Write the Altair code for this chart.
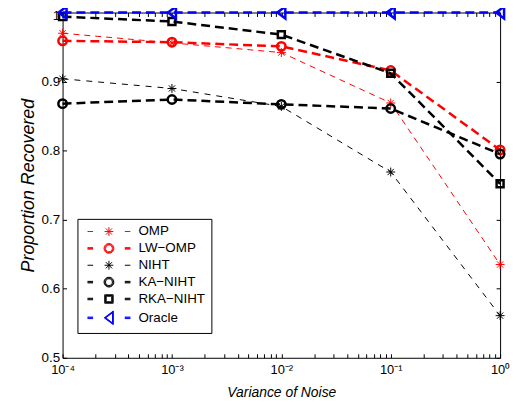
import altair as alt
import pandas as pd

# ---- data ----
x_values = [1e-4, 1e-3, 1e-2, 1e-1, 1.0]
series_names = ["OMP", "LW−OMP", "NIHT", "KA−NIHT", "RKA−NIHT", "Oracle"]
omp = [0.970, 0.956, 0.942, 0.869, 0.635]
lw_omp = [0.959, 0.957, 0.951, 0.916, 0.801]
niht = [0.904, 0.890, 0.864, 0.769, 0.561]
ka_niht = [0.868, 0.874, 0.867, 0.861, 0.795]
rka_niht = [0.994, 0.987, 0.968, 0.912, 0.752]
oracle = [1.0, 1.0, 1.0, 1.0, 1.0]
series_values = [omp, lw_omp, niht, ka_niht, rka_niht, oracle]

x_major = [1e-4, 1e-3, 1e-2, 1e-1, 1.0]
x_tick_labels = ["10⁻⁴", "10⁻³", "10⁻²", "10⁻¹", "10⁰"]
x_minor_mult = [1, 2, 3, 4, 5, 6, 7, 8, 9]
y_major = [0.5, 0.6, 0.7, 0.8, 0.9, 1.0]
y_tick_labels = ["0.5", "0.6", "0.7", "0.8", "0.9", "1"]

rows = []
for name, vals in zip(series_names, series_values):
    for xv, yv in zip(x_values, vals):
        rows.append({"series": name, "x": xv, "y": yv})
df = pd.DataFrame(rows)

# ---- styles ----
colors = ["#ff0000", "#ff0000", "#000000", "#000000", "#000000", "#0000ff"]
widths = [1.0, 2.5, 1.0, 2.5, 2.5, 2.5]
dashes = [[6, 5], [9, 5], [6, 6], [9, 5], [9, 5], [9, 5]]

AST = "M0,-1L0,1M-1,0L1,0M-0.7,-0.7L0.7,0.7M-0.7,0.7L0.7,-0.7"
CIR = "M1,0A1,1 0 1,1 -1,0A1,1 0 1,1 1,0Z"
SQR = "M-1,-1L1,-1L1,1L-1,1Z"
TRI = "M-0.67,0L0.67,-1L0.67,1Z"
marker_paths = [AST, CIR, AST, CIR, SQR, TRI]
marker_sizes = [81, 72, 81, 72, 49, 144]


# legend symbols: dash - marker - dash (unit = sqrt(64)/2 = 4 px), drawn with 1px strokes;
# thick entries are built from three parallel/concentric strokes.
def leg_dashes(offs):
    return "".join("M-5.4,%g L-4.0,%g M4.0,%g L5.4,%g" % (o, o, o, o) for o in offs)


def leg_circle(r):
    return "M%g,0 A%g,%g 0 1,1 %g,0 A%g,%g 0 1,1 %g,0Z" % (r, r, r, -r, r, r, r)


def leg_square(h):
    return "M%g,%g L%g,%g L%g,%g L%g,%g Z" % (-h, -h, h, -h, h, h, -h, h)


def leg_tri(s):
    cx = 1.0 / 3.0
    pts = [(-1.0, 0.0), (1.0, -1.5), (1.0, 1.5)]
    p = [(cx + s * (x - cx), s * y) for x, y in pts]
    return "M%g,%g L%g,%g L%g,%g Z" % (p[0][0], p[0][1], p[1][0], p[1][1], p[2][0], p[2][1])


THIN_OFF = [0.0]
THICK_OFF = [-0.19, 0.0, 0.19]
L_AST = leg_dashes(THIN_OFF) + "M0,-1.1L0,1.1M-1.1,0L1.1,0M-0.78,-0.78L0.78,0.78M-0.78,0.78L0.78,-0.78"
L_CIR = leg_dashes(THICK_OFF) + "".join(leg_circle(1.05 + o) for o in THICK_OFF)
L_SQR = leg_dashes(THICK_OFF) + "".join(leg_square(0.88 + o) for o in THICK_OFF)
L_TRI = leg_dashes(THICK_OFF) + "".join(leg_tri(s) for s in [0.85, 1.0, 1.15])
legend_paths = [L_AST, L_CIR, L_AST, L_CIR, L_SQR, L_TRI]

W, H = 441, 348
FONT = "Liberation Sans"

x_scale = alt.Scale(type="log", domain=[1e-4, 1.0], nice=False)
y_scale = alt.Scale(domain=[0.5, 1.0], nice=False, zero=False)
color_scale = alt.Scale(domain=series_names, range=colors)

x_all = [m * 10.0 ** k for k in range(-4, 0) for m in x_minor_mult] + [1.0]

x_label_expr = "[" + ",".join("'%s'" % s for s in x_tick_labels) + "][round(log(datum.value)/LN10)+4]"
y_label_expr = "[" + ",".join("'%s'" % s for s in y_tick_labels) + "][round(datum.value*10)-5]"

ax_x_labels = alt.Axis(values=x_major, labelExpr=x_label_expr, ticks=False, domain=False, grid=False,
                       labelFontSize=13, labelPadding=6, labelFlush=False, labelOverlap=False,
                       title="Variance of Noise", titleFontStyle="italic", titleFontWeight="normal",
                       titleFontSize=14, titlePadding=9)
ax_y_labels = alt.Axis(values=y_major, labelExpr=y_label_expr, ticks=False, domain=False, grid=False,
                       labelFontSize=13.5, labelPadding=3, labelFlush=False, labelOverlap=False,
                       labelOffset={"condition": {"test": "datum.value >= 0.99", "value": 3}, "value": 0},
                       title="Proportion Recovered", titleFontStyle="italic", titleFontWeight="normal",
                       titleFontSize=18, titlePadding=4)


def tick_axis(orient, offset, values):
    return alt.Axis(orient=orient, offset=offset, values=values, labels=False, domain=False,
                    grid=False, ticks=True, tickSize=4, tickColor="black", tickWidth=1, title=None)


ax_x_bottom_in = tick_axis("top", -H, x_all)
ax_x_top_in = tick_axis("bottom", -H, x_all)
ax_y_left_in = tick_axis("right", -W, y_major)
ax_y_right_in = tick_axis("left", -W, y_major)

axis_plan = {
    (0, "line"): (ax_x_labels, ax_y_labels),
    (0, "pts"): (ax_x_bottom_in, ax_y_left_in),
    (1, "line"): (ax_x_top_in, ax_y_right_in),
}

base = alt.Chart(df)
layers = []
for i, name in enumerate(series_names):
    sub = base.transform_filter(alt.datum.series == name)
    for kind in ("line", "pts"):
        axx, axy = axis_plan.get((i, kind), (None, None))
        enc = dict(
            x=alt.X("x:Q", scale=x_scale, axis=axx),
            y=alt.Y("y:Q", scale=y_scale, axis=axy),
        )
        if kind == "line":
            layers.append(sub.mark_line(color=colors[i], strokeDash=dashes[i],
                                        strokeWidth=widths[i]).encode(**enc))
        else:
            layers.append(sub.mark_point(shape=marker_paths[i], size=marker_sizes[i], filled=False,
                                         color=colors[i], strokeWidth=widths[i], opacity=1).encode(**enc))

leg = alt.Legend(title=None)
legend_layer = base.transform_filter("false").mark_point(filled=False, opacity=1).encode(
    x=alt.X("x:Q", scale=x_scale, axis=None),
    y=alt.Y("y:Q", scale=y_scale, axis=None),
    color=alt.Color("series:N", scale=color_scale, legend=leg),
    shape=alt.Shape("series:N", scale=alt.Scale(domain=series_names, range=legend_paths), legend=leg),
)
layers.append(legend_layer)

chart = alt.layer(*layers).resolve_axis(x="independent", y="independent").properties(
    width=W, height=H,
    autosize=alt.AutoSizeParams(type="none"),
    padding={"left": 55, "top": 3, "right": 12, "bottom": 40},
).configure_view(stroke="black", strokeWidth=1).configure_axis(
    labelFont=FONT, titleFont=FONT, labelColor="black", titleColor="black"
).configure_legend(
    orient="none", legendX=15, legendY=208, strokeColor="black", fillColor="white",
    padding=6, cornerRadius=0, labelFont=FONT, labelFontSize=13.5, labelColor="black",
    symbolSize=64, symbolOffset=19, labelOffset=23, rowPadding=2, symbolStrokeWidth=1,
    symbolFillColor="transparent"
)

chart.save("out.html", embed_options={"renderer": "svg", "actions": False})
